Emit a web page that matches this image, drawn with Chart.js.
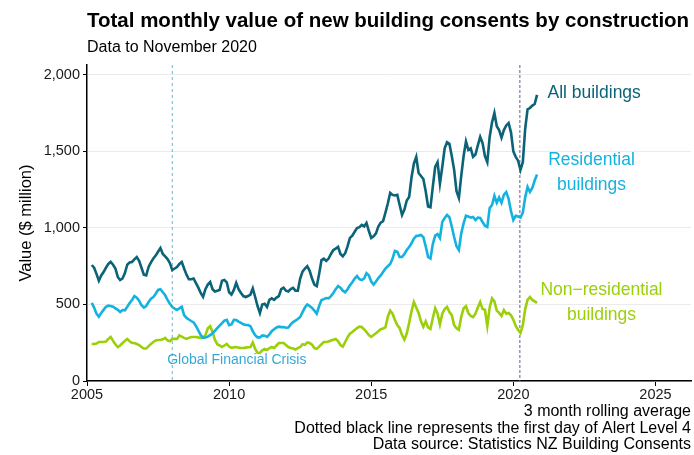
<!DOCTYPE html>
<html>
<head>
<meta charset="utf-8">
<script src="https://cdn.jsdelivr.net/npm/chart.js@4.4.0/dist/chart.umd.min.js"></script>
<style>
  html, body { margin: 0; padding: 0; background: #fff; }
  #wrap { width: 694px; height: 455px; position: relative; }
</style>
</head>
<body>
<div id="wrap"><canvas id="myChart"></canvas></div>
<script>
// 3 month rolling average, monthly from March 2005 to November 2020 ($ million)
const firstYear = 2005;
const firstMonth = 3;

const allBuildings = [
    758, 740, 700, 655, 690, 712, 740, 765, 778, 760,
    735, 680, 660, 670, 705, 760, 775, 778, 795, 810,
    785, 740, 695, 690, 745, 775, 800, 820, 845, 869,
    830, 815, 797, 770, 725, 735, 745, 765, 778, 735,
    695, 665, 665, 670, 640, 610, 575, 550, 600, 630,
    647, 600, 585, 590, 595, 655, 660, 645, 580, 565,
    595, 641, 600, 575, 555, 549, 555, 565, 605, 549,
    490, 444, 500, 505, 484, 530, 540, 530, 545, 555,
    600, 610, 590, 585, 600, 608, 590, 590, 670, 715,
    735, 750, 720, 670, 630, 620, 700, 790, 800, 785,
    800, 830, 856, 865, 876, 830, 815, 835, 880, 935,
    950, 975, 1000, 1005, 1020, 1010, 1033, 980, 935, 945,
    965, 1010, 1035, 1045, 1100, 1160, 1229, 1216, 1212, 1216,
    1150, 1085, 1120, 1180, 1203, 1330, 1420, 1464, 1359, 1340,
    1320, 1240, 1140, 1135, 1270, 1400, 1430, 1290, 1400, 1520,
    1560, 1550, 1470, 1380, 1240, 1196, 1340, 1470, 1565, 1510,
    1520, 1465, 1480, 1540, 1595, 1555, 1470, 1430, 1595, 1690,
    1752, 1665, 1640, 1590, 1640, 1670, 1686, 1625, 1500, 1465,
    1440, 1379, 1430, 1650, 1775, 1784, 1800, 1810, 1870
];

const residential = [
    510, 480, 440, 420, 445, 465, 485, 492, 490, 485,
    475, 465, 451, 464, 462, 485, 510, 529, 555, 545,
    525, 495, 480, 490, 516, 538, 548, 570, 595, 600,
    580, 560, 530, 505, 484, 472, 464, 475, 485, 430,
    412, 402, 392, 383, 360, 330, 300, 282, 284, 290,
    300, 312, 328, 345, 362, 378, 395, 400, 365, 370,
    400, 398, 388, 380, 370, 366, 366, 358, 325, 300,
    285, 285, 298, 296, 288, 305, 325, 338, 350, 355,
    352, 353, 348, 350, 370, 385, 395, 405, 418, 450,
    480, 500, 490, 478, 460, 440, 490, 529, 535, 542,
    540, 555, 575, 600, 621, 610, 590, 580, 600, 625,
    645, 670, 686, 665, 660, 670, 705, 690, 650, 630,
    650, 673, 690, 712, 735, 750, 765, 800, 850, 845,
    810, 810, 830, 856, 875, 900, 930, 948, 950, 954,
    940, 880, 810, 800, 895, 950, 960, 935, 1040, 1065,
    1085, 1070, 1010, 941, 880, 856, 965, 1030, 1080, 1075,
    1068, 1072, 1052, 1068, 1065, 1039, 1015, 1007, 1130, 1150,
    1210, 1165, 1200, 1165, 1216, 1235, 1190, 1110, 1052, 1080,
    1075, 1068, 1100, 1200, 1268, 1235, 1261, 1310, 1350
];

const nonResidential = [
    242, 242, 245, 255, 255, 255, 258, 275, 288, 262,
    240, 222, 232, 248, 262, 275, 260, 248, 248, 242,
    235, 222, 212, 212, 228, 242, 255, 265, 268, 268,
    272, 281, 265, 260, 275, 275, 275, 298, 290, 282,
    275, 282, 288, 288, 288, 285, 281, 285, 300, 345,
    358, 320, 270, 240, 232, 222, 232, 242, 225, 216,
    220, 222, 218, 216, 216, 218, 220, 222, 252, 210,
    185, 183, 200, 209, 203, 215, 222, 216, 232, 248,
    248, 248, 235, 222, 216, 212, 206, 215, 222, 240,
    236, 252, 248, 238, 215, 210, 225, 240, 255, 255,
    258, 265, 270, 275, 260, 235, 225, 255, 285, 310,
    320, 333, 346, 355, 353, 338, 320, 300, 288, 300,
    312, 325, 338, 343, 350, 420, 460, 440, 399, 365,
    345, 300, 270, 310, 380, 455, 516, 480, 444, 390,
    355, 390, 350, 340, 412, 475, 440, 370, 440, 470,
    484, 450, 430, 365, 345, 335, 420, 475, 488, 444,
    425, 418, 440, 480, 516, 470, 465, 360, 480, 540,
    520, 460, 445, 425, 464, 440, 445, 430, 400, 360,
    335, 314, 365, 470, 530, 549, 530, 520, 510
];

const seriesNames = ['All buildings', 'Residential buildings', 'Non\u2212residential buildings'];
const seriesColors = ['#0b6378', '#14b2de', '#9bcf0a'];

// events marked with vertical lines (decimal years)
const gfcDate = 2008.0;
const alertLevel4Date = 2020.23;

const yTicks = [0, 500, 1000, 1500, 2000];
const xTicks = [2005, 2010, 2015, 2020, 2025];

const captions = [
    '3 month rolling average',
    'Dotted black line represents the first day of Alert Level 4',
    'Data source: Statistics NZ Building Consents'
];

const FONT = "'Liberation Sans', Arial, Helvetica, sans-serif";

function toPoints(values) {
    return values.map((v, i) => ({ x: firstYear + (firstMonth - 1 + i) / 12, y: v }));
}

const eventLines = {
    id: 'eventLines',
    beforeDatasetsDraw(chart) {
        const { ctx, chartArea, scales } = chart;
        ctx.save();
        ctx.lineWidth = 1;

        let x = scales.x.getPixelForValue(gfcDate);
        ctx.strokeStyle = '#5bbcdc';
        ctx.setLineDash([3, 3]);
        ctx.beginPath();
        ctx.moveTo(x, chartArea.top);
        ctx.lineTo(x, chartArea.bottom);
        ctx.stroke();

        x = scales.x.getPixelForValue(alertLevel4Date);
        ctx.strokeStyle = '#5e5e82';
        ctx.setLineDash([3, 2]);
        ctx.beginPath();
        ctx.moveTo(x, chartArea.top);
        ctx.lineTo(x, chartArea.bottom);
        ctx.stroke();
        ctx.restore();
    }
};

const textLayer = {
    id: 'textLayer',
    afterDraw(chart) {
        const { ctx, scales, width } = chart;
        const sx = scales.x, sy = scales.y;
        ctx.save();
        ctx.textBaseline = 'middle';

        // title + subtitle
        ctx.fillStyle = '#000';
        ctx.textAlign = 'left';
        ctx.font = 'bold 20.5px ' + FONT;
        ctx.fillText('Total monthly value of new building consents by construction', 87, 21);
        ctx.font = '16px ' + FONT;
        ctx.fillText('Data to November 2020', 87, 48);

        // captions bottom right
        ctx.textAlign = 'right';
        ctx.font = '16px ' + FONT;
        captions.forEach((c, i) => ctx.fillText(c, width - 3, 412 + i * 16.5));

        // series labels
        ctx.font = '17.5px ' + FONT;
        ctx.fillStyle = seriesColors[0];
        ctx.textAlign = 'left';
        ctx.fillText('All buildings', sx.getPixelForValue(2021.2), sy.getPixelForValue(1882));

        ctx.textAlign = 'center';
        ctx.fillStyle = seriesColors[1];
        ctx.fillText('Residential', sx.getPixelForValue(2022.75), sy.getPixelForValue(1444));
        ctx.fillText('buildings', sx.getPixelForValue(2022.75), sy.getPixelForValue(1281));

        ctx.fillStyle = seriesColors[2];
        ctx.fillText('Non\u2212residential', sx.getPixelForValue(2023.1), sy.getPixelForValue(595));
        ctx.fillText('buildings', sx.getPixelForValue(2023.1), sy.getPixelForValue(431));

        ctx.textAlign = 'left';
        ctx.font = '14px ' + FONT;
        ctx.fillStyle = '#35a9d6';
        ctx.fillText('Global Financial Crisis', sx.getPixelForValue(2007.82), sy.getPixelForValue(137));
        ctx.restore();
    }
};

const ctx = document.getElementById('myChart');

new Chart(ctx, {
    type: 'line',
    data: {
        datasets: [allBuildings, residential, nonResidential].map((vals, i) => ({
            label: seriesNames[i],
            data: toPoints(vals),
            borderColor: seriesColors[i],
            borderWidth: 2.6,
            pointRadius: 0,
            tension: 0,
            fill: false
        }))
    },
    options: {
        responsive: true,
        maintainAspectRatio: false,
        animation: false,
        layout: { padding: { top: 65, right: 3, left: 0, bottom: 0 } },
        plugins: {
            legend: { display: false },
            tooltip: { enabled: false }
        },
        scales: {
            x: {
                type: 'linear',
                min: 2005,
                max: 2026.25,
                afterFit(scale) { scale.height = 74; },
                afterBuildTicks(scale) { scale.ticks = xTicks.map(v => ({ value: v })); },
                ticks: {
                    callback: v => String(v),
                    font: { size: 14.5, family: FONT },
                    color: '#1a1a1a',
                    maxRotation: 0,
                    padding: 0
                },
                grid: { drawOnChartArea: false, tickLength: 5, tickColor: '#000' },
                border: { color: '#000', width: 1.5 }
            },
            y: {
                min: 0,
                max: 2065,
                afterFit(scale) { scale.width = 87; },
                afterBuildTicks(scale) { scale.ticks = yTicks.map(v => ({ value: v })); },
                ticks: {
                    font: { size: 14.5, family: FONT },
                    color: '#1a1a1a',
                    padding: 3
                },
                grid: { color: '#ebebeb', lineWidth: 1, tickLength: 4, tickColor: '#000' },
                border: { color: '#000', width: 1.5 },
                title: {
                    display: true,
                    text: 'Value ($ million)',
                    font: { size: 16.5, family: FONT },
                    color: '#000',
                    padding: { top: 17, bottom: 0 }
                }
            }
        }
    },
    plugins: [eventLines, textLayer]
});
</script>
</body>
</html>
